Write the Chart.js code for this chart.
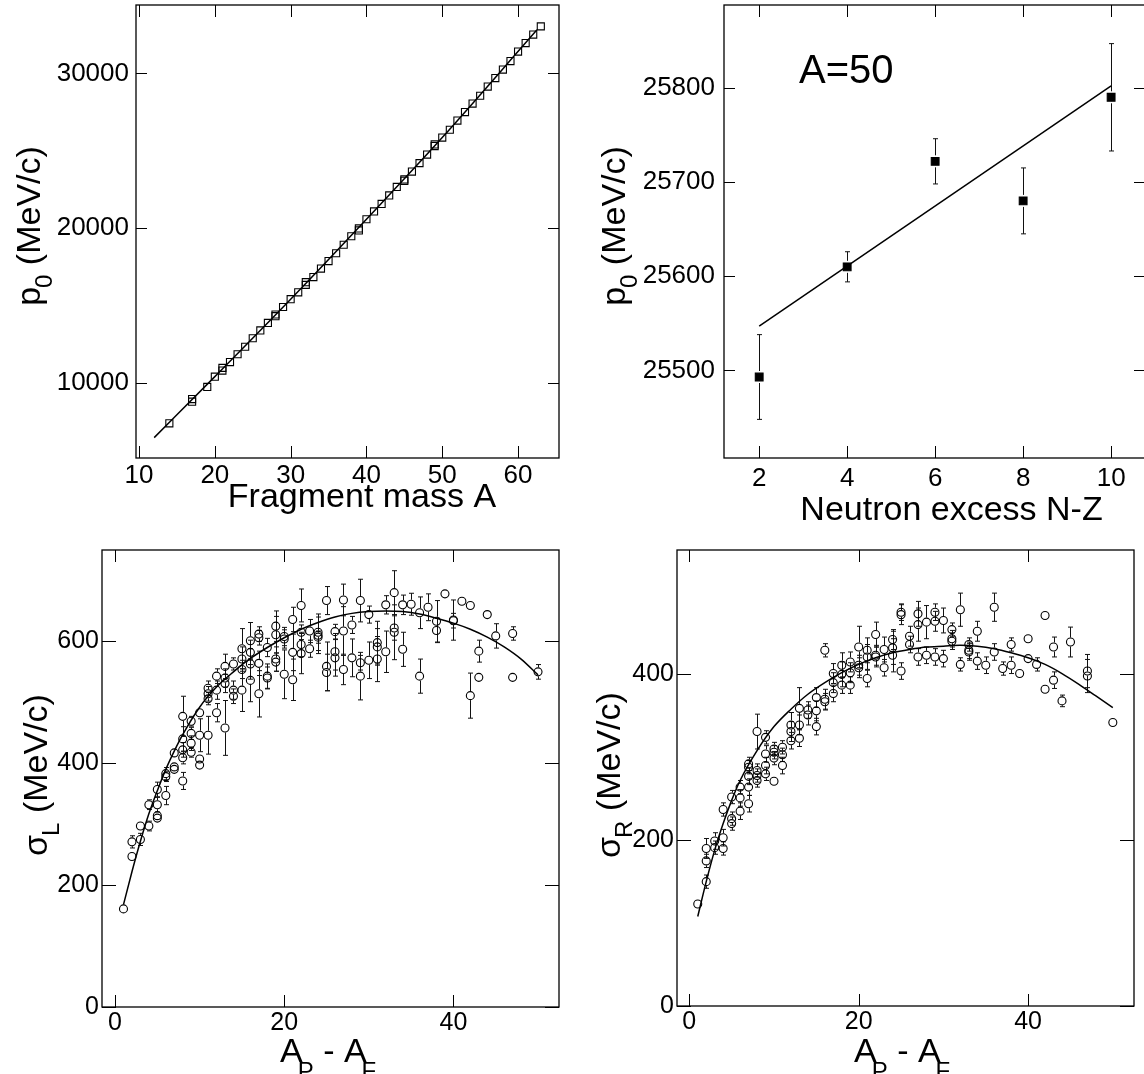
<!DOCTYPE html>
<html>
<head>
<meta charset="utf-8">
<script src="https://cdn.jsdelivr.net/npm/chart.js@4.4.1/dist/chart.umd.min.js"></script>
<style>
html, body { margin: 0; padding: 0; background: #fff; width: 1144px; height: 1074px; overflow: hidden; position: relative; }
canvas { position: absolute; }
</style>
</head>
<body>
<canvas id="c1" width="572" height="537" style="left:0;top:0"></canvas>
<canvas id="c2" width="580" height="537" style="left:572px;top:0"></canvas>
<canvas id="c3" width="572" height="537" style="left:0;top:537px"></canvas>
<canvas id="c4" width="572" height="537" style="left:572px;top:537px"></canvas>
<script>
// ---- data: p0 vs fragment mass ----
const massA = [14, 17, 17, 19, 20, 21, 21, 22, 23, 24, 25, 26, 27, 28, 28, 29, 30, 31, 32, 32, 33, 34, 35, 36, 37, 38, 39, 39,
  40, 41, 42, 43, 44, 45, 45, 46, 47, 48, 49, 49, 50, 51, 52, 53, 54, 55, 56, 57, 58, 59, 60, 61, 62, 63];
const momP0 = [7384, 8950, 8780, 9736, 10396, 10791, 10967, 11341, 11846, 12330, 12880, 13385, 13869, 14308, 14418, 14902,
  15407, 15847, 16330, 16506, 16836, 17385, 17869, 18374, 18924, 19473, 19979, 19847, 20572, 21078, 21561, 22111, 22660,
  23144, 23056, 23650, 24199, 24749, 25298, 25408, 25848, 26353, 26947, 27496, 28046, 28551, 29145, 29694, 30244, 30793,
  31409, 31958, 32508, 33035];
const fitAX = [12, 20, 30, 40, 50, 62.5];
const fitAY = [6460, 10400, 15400, 20570, 25850, 32810];

// ---- data: p0 vs neutron excess (A=50) ----
const nzX = [2, 4, 6, 8, 10];
const nzY = [25493, 25610, 25722, 25680, 25790];
const nzErr = [45, 16, 24, 35, 57];
const nzFitX = [2, 10];
const nzFitY = [25547, 25802];

// ---- data: sigma_L vs A_P - A_F ----
const sigLX = [1, 2, 2, 3, 3, 4, 4, 5, 5, 5, 5, 6, 6, 6, 7, 7, 7, 8, 8, 8, 8, 8, 9, 9, 9, 9, 10, 10, 10, 10,
  11, 11, 11, 11, 12, 12, 12, 13, 13, 13, 13, 14, 14, 14, 15, 15, 15, 15, 16, 16, 16, 16, 17, 17, 17, 17,
  18, 18, 18, 19, 19, 19, 19, 20, 20, 20, 21, 21, 21, 22, 22, 22, 22, 23, 23, 24, 24, 24, 25, 25, 25,
  26, 26, 26, 27, 27, 27, 28, 28, 29, 29, 29, 30, 30, 31, 31, 31, 32, 32, 33, 33, 33, 34, 34, 35, 36, 36,
  37, 38, 38, 39, 40, 40, 41, 42, 42, 43, 43, 44, 45, 47, 47, 50];
const sigLY = [161, 271, 247, 297, 275, 332, 297, 357, 332, 314, 310, 383, 378, 347, 417, 394, 390, 477, 440, 422, 409, 371,
  469, 449, 433, 418, 483, 446, 407, 397, 523, 514, 506, 446, 543, 520, 483, 559, 540, 531, 458, 563, 520, 510,
  588, 571, 554, 520, 601, 582, 563, 536, 612, 606, 564, 514, 590, 543, 540, 625, 611, 571, 566, 608, 604, 546,
  636, 582, 537, 659, 615, 595, 580, 617, 588, 615, 610, 607, 667, 559, 549, 616, 583, 573, 668, 617, 554,
  627, 573, 667, 565, 543, 644, 569, 598, 591, 571, 660, 583, 680, 622, 615, 660, 587, 661, 647, 543,
  656, 633, 618, 678, 635, 634, 666, 659, 511, 584, 541, 644, 609, 613, 541, 550];
const sigLErr = [3, 10, 3, 5, 10, 8, 8, 12, 12, 6, 5, 10, 8, 15, 6, 6, 5, 33, 20, 12, 10, 14, 8, 10, 12, 8, 6, 27, 6, 5,
  12, 12, 10, 31, 12, 15, 15, 20, 15, 15, 45, 10, 15, 12, 33, 20, 15, 35, 30, 20, 25, 35, 12, 12, 20, 38,
  15, 20, 18, 25, 30, 20, 15, 15, 15, 40, 20, 30, 34, 27, 12, 20, 33, 19, 14, 30, 30, 10, 23, 40, 30,
  12, 30, 30, 26, 40, 25, 14, 31, 35, 12, 39, 14, 30, 35, 30, 37, 15, 34, 36, 20, 45, 16, 28, 18, 26, 28,
  22, 34, 20, 0, 33, 12, 0, 0, 37, 18, 5, 0, 20, 11, 5, 12];
const sigLFitX = [1, 2, 3, 4, 5, 6, 7, 8, 10, 12, 14, 16, 18, 20, 22, 24, 26, 28, 30, 32, 34, 36, 38, 40, 42, 44, 46, 48, 50];
const sigLFitY = [168, 222, 272, 317, 355, 390, 420, 447, 492, 525, 550, 572, 590, 606, 620, 631, 640, 646, 649, 650,
  649, 645, 638, 630, 620, 607, 591, 571, 545];

// ---- data: sigma_R vs A_P - A_F ----
const sigRX = [1, 2, 2, 2, 3, 3, 4, 4, 4, 5, 5, 5, 6, 6, 6, 7, 7, 7, 7, 7, 8, 8, 8, 8, 9, 9, 9, 9, 10, 10, 10, 10,
  11, 11, 11, 12, 12, 12, 13, 13, 13, 14, 14, 15, 15, 15, 16, 16, 16, 17, 17, 17, 18, 18, 18, 19, 19, 19,
  20, 20, 20, 21, 21, 21, 22, 22, 22, 23, 23, 24, 24, 24, 25, 25, 25, 26, 26, 27, 27, 27, 28, 28, 29, 29, 29,
  30, 30, 31, 31, 31, 32, 32, 33, 33, 33, 34, 34, 35, 36, 36, 37, 38, 38, 39, 40, 40, 41, 42, 42, 43, 43,
  44, 45, 47, 47, 50];
const sigRY = [123, 150, 175, 190, 199, 191, 237, 203, 190, 252, 226, 220, 264, 251, 235, 292, 288, 277, 264, 244,
  331, 284, 278, 272, 324, 304, 290, 280, 310, 306, 299, 271, 312, 303, 290, 339, 331, 320, 359, 339, 323,
  357, 351, 372, 356, 337, 429, 370, 367, 401, 390, 377, 411, 400, 387, 415, 402, 387, 433, 411, 408,
  429, 421, 395, 448, 423, 421, 430, 408, 442, 432, 423, 475, 472, 404, 446, 436, 473, 460, 421, 463, 423,
  475, 464, 421, 465, 419, 454, 443, 440, 478, 412, 436, 429, 427, 452, 416, 411, 481, 427, 407, 436, 411,
  401, 443, 419, 412, 471, 382, 433, 393, 368, 439, 404, 398, 342];
const sigRErr = [3, 8, 8, 12, 10, 8, 8, 10, 8, 8, 8, 8, 8, 10, 10, 8, 8, 10, 10, 10, 21, 8, 8, 8, 8, 10, 10, 8,
  8, 8, 8, 5, 8, 8, 10, 15, 12, 10, 25, 12, 10, 10, 12, 12, 12, 10, 8, 12, 10, 12, 12, 10, 15, 15, 10,
  12, 12, 10, 25, 12, 12, 15, 15, 10, 15, 12, 12, 15, 10, 12, 20, 20, 10, 12, 10, 12, 10, 15, 20, 10,
  20, 10, 10, 12, 10, 15, 10, 8, 10, 10, 20, 8, 8, 10, 10, 12, 10, 10, 17, 10, 8, 8, 10, 5, 5, 5, 8,
  0, 5, 12, 10, 7, 18, 20, 20, 5];
const sigRFitX = [1, 2, 3, 4, 5, 6, 8, 10, 12, 14, 16, 18, 20, 22, 24, 26, 28, 30, 32, 34, 36, 38, 40, 42, 44, 46, 48, 50];
const sigRFitY = [108, 150, 188, 220, 248, 272, 308, 337, 358, 376, 390, 402, 412, 420, 426, 430, 433, 434, 435,
  434, 431, 426, 420, 412, 401, 388, 374, 360];

const FAMILY = "'Liberation Sans', Arial, Helvetica, sans-serif";

function pts(xs, ys) {
  return xs.map((x, i) => ({ x: x, y: ys[i] }));
}

function isMul(v, step) {
  const r = v / step;
  return Math.abs(r - Math.round(r)) < 1e-6;
}

// text with subscripts: parts = [[text, isSub], ...]
function drawRich(ctx, parts, x, y, align, size, sub) {
  const main = size + 'px ' + FAMILY;
  const small = sub.size + 'px ' + FAMILY;
  let total = 0;
  parts.forEach(p => {
    ctx.font = p[1] ? small : main;
    total += ctx.measureText(p[0]).width + (p[1] ? sub.kern : 0);
  });
  let cx = align === 'center' ? x - total / 2 : x;
  ctx.textBaseline = 'alphabetic';
  ctx.textAlign = 'left';
  parts.forEach(p => {
    ctx.font = p[1] ? small : main;
    if (p[1]) cx += sub.kern;
    ctx.fillText(p[0], cx, y + (p[1] ? sub.shift : 0));
    cx += ctx.measureText(p[0]).width;
  });
}

const panels = {
  c1: {
    w: 572, area: { left: 136, top: 5, right: 559, bottom: 458 }, tickFont: 26,
    x: { min: 9.6, max: 65.4, step: 5, major: 10, pad: 2, majLen: 12, minLen: 7 },
    y: { min: 5142, max: 34417, step: 2000, major: 10000, pad: 7, majLen: 11, minLen: 5 },
    yTitle: { parts: [['p'], ['0', 1], [' (MeV/c)']], base: 40, center: 226 },
    xTitle: { parts: [['Fragment mass A']], x: 362, y: 507, align: 'center' }
  },
  c2: {
    w: 580, area: { left: 152, top: 5, right: 573, bottom: 458 }, tickFont: 26,
    x: { min: 1.2, max: 10.77, step: 1, major: 2, pad: 5, majLen: 12, minLen: 7 },
    y: { min: 25407, max: 25888, step: 20, major: 100, pad: 9, majLen: 11, minLen: 5 },
    yTitle: { parts: [['p'], ['0', 1], [' (MeV/c)']], base: 53, center: 226 },
    xTitle: { parts: [['Neutron excess N-Z']], x: 379.5, y: 520, align: 'center' },
    label: { text: 'A=50', x: 227, y: 83, size: 40 }
  },
  c3: {
    w: 572, area: { left: 102, top: 13, right: 559, bottom: 470 }, tickFont: 25,
    x: { min: -1.54, max: 52.48, step: 5, major: 20, pad: 1, majLen: 12, minLen: 7 },
    y: { min: 0, max: 750, step: 50, major: 200, pad: 3, majLen: 14, minLen: 7 },
    yTitle: { parts: [['\u03c3'], ['L', 1], [' (MeV/c)']], base: 47, center: 238 },
    xTitle: { parts: [['A'], ['P', 1], [' - '], ['A'], ['F', 1]], x: 280, y: 525, align: 'left', sub: { size: 24, shift: 17, kern: -5 } }
  },
  c4: {
    w: 572, area: { left: 105, top: 13, right: 562, bottom: 469 }, tickFont: 25,
    x: { min: -1.45, max: 52.5, step: 5, major: 20, pad: 1, majLen: 12, minLen: 7 },
    y: { min: 0, max: 550, step: 50, major: 200, pad: 3, majLen: 14, minLen: 7 },
    yTitle: { parts: [['\u03c3'], ['R', 1], [' (MeV/c)']], base: 48, center: 238 },
    xTitle: { parts: [['A'], ['P', 1], [' - '], ['A'], ['F', 1]], x: 282, y: 525, align: 'left', sub: { size: 24, shift: 17, kern: -5 } }
  }
};

const framePlugin = {
  id: 'frame',
  beforeDatasetsDraw(chart) {
    const { ctx, chartArea: a, scales: { x, y } } = chart;
    ctx.save();
    ctx.beginPath();
    ctx.rect(a.left, a.top, a.right - a.left, a.bottom - a.top);
    ctx.clip();
    ctx.strokeStyle = '#111';
    ctx.lineWidth = 1;
    chart.data.datasets.forEach(ds => {
      if (!ds.errs) return;
      const r = ds.pointRadius + 0.5;
      ctx.beginPath();
      ds.data.forEach((p, i) => {
        const e = ds.errs[i];
        if (!e) return;
        const px = Math.round(x.getPixelForValue(p.x)) + 0.5;
        const py = y.getPixelForValue(p.y);
        const top = y.getPixelForValue(p.y + e);
        const bot = y.getPixelForValue(p.y - e);
        if (py - top > r) {
          ctx.moveTo(px, py - r); ctx.lineTo(px, top);
          ctx.moveTo(px - 2.5, top); ctx.lineTo(px + 2.5, top);
        }
        if (bot - py > r) {
          ctx.moveTo(px, py + r); ctx.lineTo(px, bot);
          ctx.moveTo(px - 2.5, bot); ctx.lineTo(px + 2.5, bot);
        }
      });
      ctx.stroke();
    });
    ctx.restore();
  },
  afterDraw(chart) {
    const p = panels[chart.canvas.id];
    const { ctx, chartArea: a, scales: { x, y } } = chart;
    ctx.save();
    ctx.strokeStyle = '#000';
    ctx.lineWidth = 1;
    ctx.beginPath();
    x.ticks.forEach(t => {
      const px = Math.round(x.getPixelForValue(t.value)) + 0.5;
      const len = isMul(t.value, p.x.major) ? p.x.majLen : p.x.minLen;
      ctx.moveTo(px, a.bottom); ctx.lineTo(px, a.bottom - len);
      ctx.moveTo(px, a.top); ctx.lineTo(px, a.top + len);
    });
    y.ticks.forEach(t => {
      const py = Math.round(y.getPixelForValue(t.value)) + 0.5;
      const len = isMul(t.value, p.y.major) ? p.y.majLen : p.y.minLen;
      ctx.moveTo(a.left, py); ctx.lineTo(a.left + len, py);
      ctx.moveTo(a.right, py); ctx.lineTo(a.right - len, py);
    });
    ctx.stroke();
    ctx.lineWidth = 1.3;
    ctx.strokeRect(a.left, a.top, a.right - a.left, a.bottom - a.top);

    ctx.fillStyle = '#000';
    // y title, rotated
    ctx.save();
    ctx.translate(p.yTitle.base, p.yTitle.center);
    ctx.rotate(-Math.PI / 2);
    drawRich(ctx, p.yTitle.parts, 0, 0, 'center', 34, { size: 24, shift: 12, kern: -1 });
    ctx.restore();
    // x title
    drawRich(ctx, p.xTitle.parts, p.xTitle.x, p.xTitle.y, p.xTitle.align, 34,
      p.xTitle.sub || { size: 24, shift: 12, kern: -1 });
    if (p.label) {
      ctx.font = p.label.size + 'px ' + FAMILY;
      ctx.textAlign = 'left';
      ctx.textBaseline = 'alphabetic';
      ctx.fillText(p.label.text, p.label.x, p.label.y);
    }
    ctx.restore();
  }
};

function tickValues(spec) {
  const out = [];
  let v = Math.ceil(spec.min / spec.step - 1e-9) * spec.step;
  for (; v <= spec.max + 1e-9; v += spec.step) out.push({ value: Math.round(v * 1000) / 1000 });
  return out;
}

function axis(spec, horizontal, canvasH, area, fontSize) {
  return {
    type: 'linear',
    position: horizontal ? 'bottom' : 'left',
    min: spec.min,
    max: spec.max,
    grid: { display: false, drawTicks: false },
    border: { display: false },
    ticks: {
      autoSkip: false,
      maxRotation: 0,
      padding: spec.pad,
      color: '#000',
      font: { family: FAMILY, size: fontSize },
      callback: v => (isMul(v, spec.major) ? String(v) : null)
    },
    afterBuildTicks: s => { s.ticks = tickValues(spec); },
    afterFit: s => {
      if (horizontal) s.height = canvasH - area.bottom;
      else s.width = area.left;
      // keep the plot frame exactly where the layout padding puts it
      s.paddingTop = 0; s.paddingBottom = 0; s.paddingLeft = 0; s.paddingRight = 0;
    }
  };
}

function buildPanel(id, datasets) {
  const p = panels[id];
  const cv = document.getElementById(id);
  return new Chart(cv, {
    type: 'scatter',
    data: { datasets: datasets },
    options: {
      responsive: false,
      animation: false,
      devicePixelRatio: 1,
      layout: { autoPadding: false, padding: { left: 0, top: p.area.top, right: p.w - p.area.right, bottom: 0 } },
      plugins: { legend: { display: false }, tooltip: { enabled: false } },
      scales: {
        x: axis(p.x, true, cv.height, p.area, p.tickFont),
        y: axis(p.y, false, cv.height, p.area, p.tickFont)
      }
    },
    plugins: [framePlugin]
  });
}

function fitLine(xs, ys) {
  return {
    type: 'line', data: pts(xs, ys), showLine: true, pointRadius: 0,
    borderColor: '#000', borderWidth: 1.5, cubicInterpolationMode: 'monotone', fill: false
  };
}

function markers(xs, ys, errs, style, radius, filled) {
  return {
    data: pts(xs, ys), errs: errs, pointStyle: style, pointRadius: radius,
    borderColor: '#000', borderWidth: 1.1,
    backgroundColor: filled ? '#000' : 'rgba(0,0,0,0)'
  };
}

buildPanel('c1', [fitLine(fitAX, fitAY), markers(massA, momP0, null, 'rect', 5, false)]);
buildPanel('c2', [fitLine(nzFitX, nzFitY), markers(nzX, nzY, nzErr, 'rect', 5.5, true)]);
buildPanel('c3', [fitLine(sigLFitX, sigLFitY), markers(sigLX, sigLY, sigLErr, 'circle', 4, false)]);
buildPanel('c4', [fitLine(sigRFitX, sigRFitY), markers(sigRX, sigRY, sigRErr, 'circle', 4, false)]);
</script>
</body>
</html>
